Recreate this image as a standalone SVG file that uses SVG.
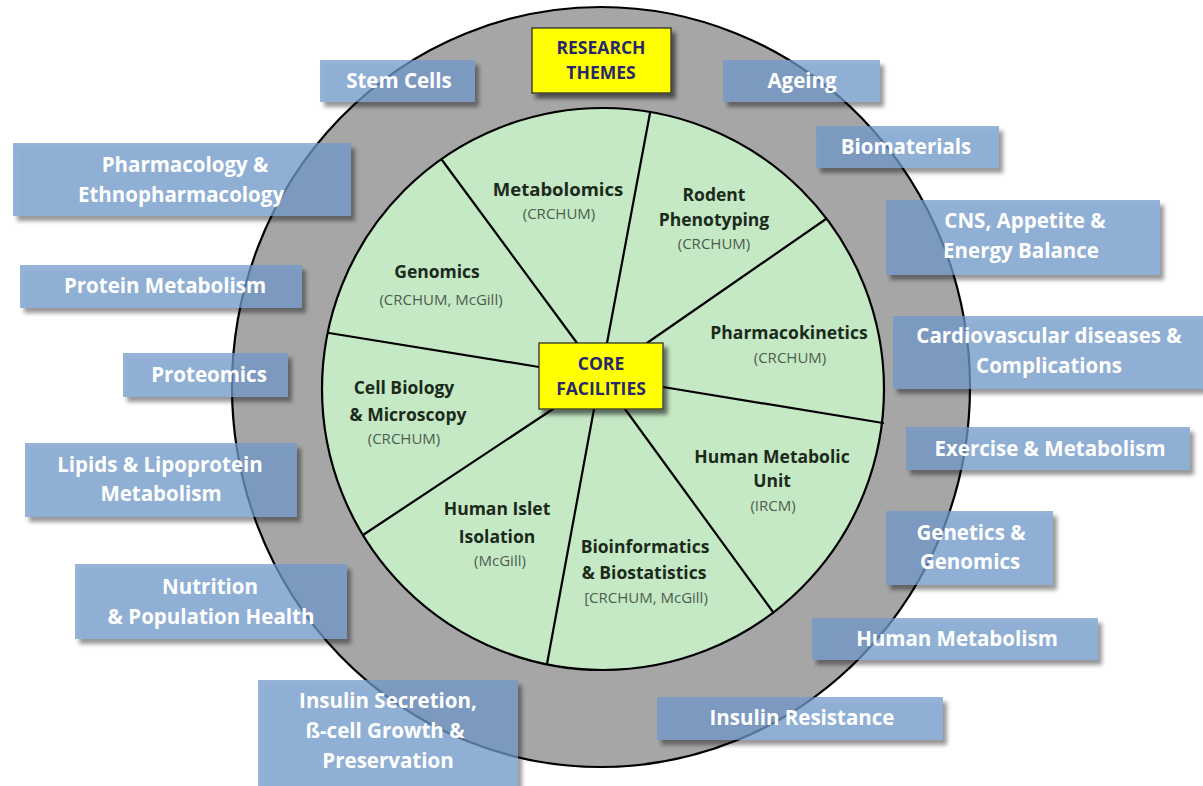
<svg xmlns="http://www.w3.org/2000/svg" width="1203" height="786" viewBox="0 0 1203 786">
  <defs>
    <!-- soft drop shadow that stays outside the shape, so translucent boxes keep an even tint -->
    <filter id="shadow" x="-10%" y="-20%" width="125%" height="150%">
      <feGaussianBlur in="SourceAlpha" stdDeviation="2.2" result="blur"/>
      <feOffset in="blur" dx="4" dy="5" result="off"/>
      <feComponentTransfer in="off" result="soft">
        <feFuncA type="linear" slope="0.55"/>
      </feComponentTransfer>
      <feComposite in="soft" in2="SourceAlpha" operator="out" result="outer"/>
      <feMerge>
        <feMergeNode in="outer"/>
        <feMergeNode in="SourceGraphic"/>
      </feMerge>
    </filter>
    <style>
      .ring { fill: #a6a6a6; stroke: #000; stroke-width: 2.2; }
      .core { fill: #c5e8c5; stroke: #000; stroke-width: 2.2; }
      .spoke { stroke: #000; stroke-width: 2.2; fill: none; stroke-linecap: round; }
      .yellow { fill: #ffff00; stroke: #222; stroke-width: 1.2; }
      .ylab { font-family: "Open Sans", Lato, "Liberation Sans", sans-serif; font-weight: bold; font-size: 17.5px; fill: #27276e; text-anchor: middle; }
      .theme { fill: #7099ca; fill-opacity: 0.74; }
      .tlab { font-family: "Open Sans", Lato, "Liberation Sans", sans-serif; font-weight: bold; font-size: 20.5px; fill: #ffffff; text-anchor: middle; }
      .fac { font-family: "Open Sans", Lato, "Liberation Sans", sans-serif; font-weight: bold; font-size: 17.5px; fill: #1b2a1b; text-anchor: middle; }
      .big { font-size: 18.5px; }
      .site { font-family: "Open Sans", Lato, "Liberation Sans", sans-serif; font-size: 15px; fill: #4d5d4d; text-anchor: middle; }
    </style>
  </defs>

  <!-- outer research ring and inner core-facility disc -->
  <g id="ring">
    <ellipse class="ring" cx="601" cy="387" rx="369" ry="380"/>
  </g>
  <g id="core-disc">
    <circle class="core" cx="603" cy="389" r="281"/>
  </g>

  <!-- sector dividers -->
  <g id="connectors">
    <line class="spoke" x1="442" y1="160" x2="577" y2="343"/>
    <line class="spoke" x1="650" y1="113" x2="607" y2="343"/>
    <line class="spoke" x1="826" y1="219" x2="647" y2="343"/>
    <line class="spoke" x1="883" y1="423" x2="663" y2="387"/>
    <line class="spoke" x1="773" y1="612" x2="625" y2="409"/>
    <line class="spoke" x1="547" y1="664" x2="594" y2="409"/>
    <line class="spoke" x1="363" y1="535" x2="553" y2="409"/>
    <line class="spoke" x1="329" y1="333" x2="539" y2="367"/>
  </g>

  <!-- core facility sectors -->
  <g id="metabolomics">
    <text class="fac big" x="558" y="196">Metabolomics</text>
    <text class="site" x="559" y="219">(CRCHUM)</text>
  </g>
  <g id="rodent-phenotyping">
    <text class="fac" x="714" y="201">Rodent</text>
    <text class="fac" x="714" y="226">Phenotyping</text>
    <text class="site" x="714" y="249">(CRCHUM)</text>
  </g>
  <g id="genomics">
    <text class="fac" x="437" y="278">Genomics</text>
    <text class="site" x="441" y="305">(CRCHUM, McGill)</text>
  </g>
  <g id="pharmacokinetics">
    <text class="fac" x="789" y="339">Pharmacokinetics</text>
    <text class="site" x="790" y="363">(CRCHUM)</text>
  </g>
  <g id="cell-biology">
    <text class="fac" x="404" y="394">Cell Biology</text>
    <text class="fac" x="408" y="421">&amp; Microscopy</text>
    <text class="site" x="404" y="444">(CRCHUM)</text>
  </g>
  <g id="human-metabolic-unit">
    <text class="fac" x="772" y="463">Human Metabolic</text>
    <text class="fac" x="772" y="487">Unit</text>
    <text class="site" x="773" y="511">(IRCM)</text>
  </g>
  <g id="human-islet">
    <text class="fac" x="497" y="515">Human Islet</text>
    <text class="fac" x="497" y="543">Isolation</text>
    <text class="site" x="500" y="566">(McGill)</text>
  </g>
  <g id="bioinformatics">
    <text class="fac" x="645" y="553">Bioinformatics</text>
    <text class="fac" x="644" y="579">&amp; Biostatistics</text>
    <text class="site" x="646" y="603">[CRCHUM, McGill)</text>
  </g>

  <!-- centre and title labels -->
  <g id="core-facilities">
    <rect class="yellow" x="539" y="343" width="124" height="66" filter="url(#shadow)"/>
    <text class="ylab" x="601" y="370">CORE</text>
    <text class="ylab" x="601" y="395">FACILITIES</text>
  </g>
  <g id="research-themes">
    <rect class="yellow" x="532" y="28" width="139" height="65" filter="url(#shadow)"/>
    <text class="ylab" x="601" y="54">RESEARCH</text>
    <text class="ylab" x="601" y="79">THEMES</text>
  </g>

  <!-- research themes around the ring -->
  <g id="stem-cells">
    <rect class="theme" x="320" y="60" width="155" height="42" filter="url(#shadow)"/>
    <text class="tlab" x="399" y="88">Stem Cells</text>
  </g>
  <g id="ageing">
    <rect class="theme" x="723" y="60" width="157" height="42" filter="url(#shadow)"/>
    <text class="tlab" x="802" y="88">Ageing</text>
  </g>
  <g id="biomaterials">
    <rect class="theme" x="816" y="126" width="183" height="42" filter="url(#shadow)"/>
    <text class="tlab" x="906" y="154">Biomaterials</text>
  </g>
  <g id="pharmacology">
    <rect class="theme" x="13" y="143" width="338" height="73" filter="url(#shadow)"/>
    <text class="tlab" x="185" y="172">Pharmacology &amp;</text>
    <text class="tlab" x="181" y="202">Ethnopharmacology</text>
  </g>
  <g id="cns-appetite">
    <rect class="theme" x="886" y="200" width="274" height="75" filter="url(#shadow)"/>
    <text class="tlab" x="1025" y="228">CNS, Appetite &amp;</text>
    <text class="tlab" x="1021" y="258">Energy Balance</text>
  </g>
  <g id="protein-metabolism">
    <rect class="theme" x="20" y="265" width="282" height="43" filter="url(#shadow)"/>
    <text class="tlab" x="165" y="293">Protein Metabolism</text>
  </g>
  <g id="cardiovascular">
    <rect class="theme" x="893" y="316" width="310" height="73" filter="url(#shadow)"/>
    <text class="tlab" x="1049" y="343">Cardiovascular diseases &amp;</text>
    <text class="tlab" x="1049" y="373">Complications</text>
  </g>
  <g id="proteomics">
    <rect class="theme" x="123" y="353" width="165" height="44" filter="url(#shadow)"/>
    <text class="tlab" x="209" y="382">Proteomics</text>
  </g>
  <g id="exercise">
    <rect class="theme" x="906" y="427" width="284" height="43" filter="url(#shadow)"/>
    <text class="tlab" x="1050" y="456">Exercise &amp; Metabolism</text>
  </g>
  <g id="lipids">
    <rect class="theme" x="25" y="443" width="272" height="74" filter="url(#shadow)"/>
    <text class="tlab" x="160" y="472">Lipids &amp; Lipoprotein</text>
    <text class="tlab" x="161" y="501">Metabolism</text>
  </g>
  <g id="genetics">
    <rect class="theme" x="886" y="511" width="167" height="74" filter="url(#shadow)"/>
    <text class="tlab" x="971" y="540">Genetics &amp;</text>
    <text class="tlab" x="970" y="569">Genomics</text>
  </g>
  <g id="nutrition">
    <rect class="theme" x="75" y="564" width="272" height="75" filter="url(#shadow)"/>
    <text class="tlab" x="210" y="594">Nutrition</text>
    <text class="tlab" x="211" y="624">&amp; Population Health</text>
  </g>
  <g id="human-metabolism">
    <rect class="theme" x="812" y="618" width="286" height="42" filter="url(#shadow)"/>
    <text class="tlab" x="957" y="646">Human Metabolism</text>
  </g>
  <g id="insulin-secretion">
    <rect class="theme" x="258" y="680" width="260" height="106" filter="url(#shadow)"/>
    <text class="tlab" x="388" y="708">Insulin Secretion,</text>
    <text class="tlab" x="385" y="738">ß-cell Growth &amp;</text>
    <text class="tlab" x="388" y="768">Preservation</text>
  </g>
  <g id="insulin-resistance">
    <rect class="theme" x="657" y="697" width="286" height="43" filter="url(#shadow)"/>
    <text class="tlab" x="802" y="725">Insulin Resistance</text>
  </g>
</svg>
